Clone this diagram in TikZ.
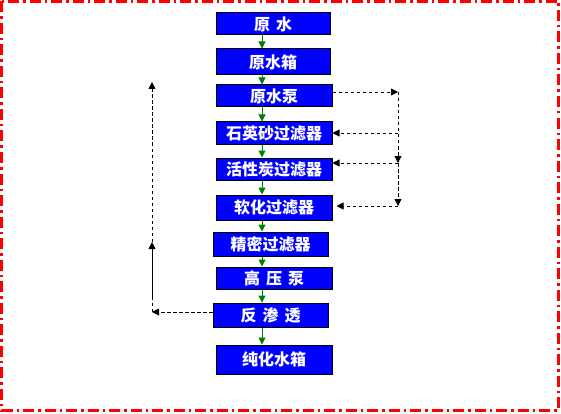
\documentclass[tikz,border=0pt]{standalone}
\usepackage{fontspec}
\newfontfamily\cjk{Noto Sans CJK SC}
\usetikzlibrary{arrows.meta}
\definecolor{boxblue}{RGB}{0,0,255}
\definecolor{flowgreen}{RGB}{0,128,0}
\tikzset{
  stagebox/.style={draw=black,line width=1pt,fill=boxblue,text=white,
    font=\cjk\bfseries\fontsize{16}{16}\selectfont,inner sep=0pt,
    minimum width=116,minimum height=23},
  mainflow/.style={draw=flowgreen,line width=1pt,
    -{Triangle[length=7pt,width=7pt,fill=flowgreen]}},
  backflow/.style={draw=black,line width=0.9pt,dash pattern=on 3.5pt off 2.5pt,
    -{Triangle[length=7pt,width=7pt]}},
}
\newcommand{\gapch}{\hspace{6pt}}
\begin{document}
\begin{tikzpicture}[x=1pt,y=-1pt]
			\useasboundingbox (0,0) rectangle (561,414);
			\draw[red,line width=3pt,dash pattern=on 11pt off 4pt on 2.5pt off 4pt] (1.5,1.5) rectangle (558.5,410);
			% stages of the water treatment line
			\node[stagebox,minimum width=114,minimum height=22] (yuanshui) at (273,24) {原\gapch 水};
			\node[stagebox,minimum width=114,minimum height=26] (yuanshuixiang) at (273,62) {原水箱};
			\node[stagebox,minimum height=22] (yuanshuibeng) at (274,96) {原水泵};
			\node[stagebox] (shiying) at (274,133.5) {石英砂过滤器};
			\node[stagebox,minimum height=22] (huoxingtan) at (274,169) {活性炭过滤器};
			\node[stagebox,minimum height=25] (ruanhua) at (274,207.5) {软化过滤器};
			\node[stagebox,minimum width=115,minimum height=24] (jingmi) at (270.5,244) {精密过滤器};
			\node[stagebox,minimum height=22] (gaoya) at (274,278) {高\gapch 压\gapch 泵};
			\node[stagebox,minimum width=115,minimum height=24] (fanshentou) at (270.5,315) {反\gapch 渗\gapch 透};
			\node[stagebox,minimum height=29] (chunhua) at (274,359.5) {纯化水箱};
			% main flow
			\coordinate (axis) at (262,0);
			\draw[mainflow] (yuanshui.south -| axis) -- (yuanshuixiang.north -| axis);
			\draw[mainflow] (yuanshuixiang.south -| axis) -- (yuanshuibeng.north -| axis);
			\draw[mainflow] (yuanshuibeng.south -| axis) -- (shiying.north -| axis);
			\draw[mainflow] (shiying.south -| axis) -- (huoxingtan.north -| axis);
			\draw[mainflow] (huoxingtan.south -| axis) -- (ruanhua.north -| axis);
			\draw[mainflow] (ruanhua.south -| axis) -- (jingmi.north -| axis);
			\draw[mainflow] (jingmi.south -| axis) -- (gaoya.north -| axis);
			\draw[mainflow] (gaoya.south -| axis) -- (fanshentou.north -| axis);
			\draw[mainflow] (fanshentou.south -| axis) -- (chunhua.north -| axis);
			% backwash on the right
			\coordinate (r1) at (398,92);
			\coordinate (r2) at (398,133);
			\coordinate (r3) at (398,163);
			\coordinate (r4) at (398,206);
			\draw[backflow] (yuanshuibeng.east |- r1) -- (r1);
			\draw[backflow] (r1) -- (r3);
			\draw[backflow] (r3) -- (r4);
			\draw[backflow] (r2) -- (shiying.east |- r2);
			\draw[backflow] (r3) -- (huoxingtan.east |- r3);
			\draw[backflow,shorten >=4pt] (r4) -- (ruanhua.east |- r4);
			% concentrate return on the left
			\coordinate (l1) at (152,82);
			\coordinate (l2) at (152,242);
			\coordinate (l3) at (152,300);
			\coordinate (l4) at (152,312);
			\draw[backflow] (fanshentou.west |- l4) -- (l4);
			\draw[backflow,-] (l4) -- (l3);
			\draw[backflow,solid] (l3) -- (l2);
			\draw[backflow] (l2) -- (l1);
		\end{tikzpicture}
\end{document}
